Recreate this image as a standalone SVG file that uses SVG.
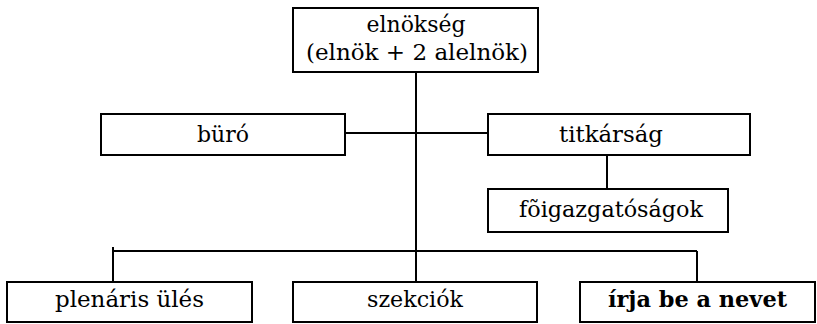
<svg xmlns="http://www.w3.org/2000/svg" width="817" height="324" viewBox="0 0 817 324">
<style>
.box{fill:#fff;stroke:#000;stroke-width:2}
.ln{stroke:#000;stroke-width:2;fill:none}
text{font-family:"DejaVu Serif","Liberation Serif",serif;font-size:22.5px;fill:#000;text-anchor:middle}
.b{font-weight:bold}
</style>
<rect width="817" height="324" fill="#fff"/>
<g id="connectors">
<line class="ln" x1="416" y1="72" x2="416" y2="282"/>
<line class="ln" x1="345" y1="133" x2="488" y2="133"/>
<line class="ln" x1="607" y1="155" x2="607" y2="189"/>
<line class="ln" x1="113" y1="251" x2="697" y2="251"/>
<line class="ln" x1="113" y1="247" x2="113" y2="282"/>
<line class="ln" x1="697" y1="251" x2="697" y2="282"/>
</g>
<g id="elnokseg">
<rect class="box" x="293" y="8" width="245" height="64"/>
<text x="416" y="32" textLength="99" lengthAdjust="spacingAndGlyphs">elnökség</text>
<text x="417" y="60" textLength="222" lengthAdjust="spacingAndGlyphs">(elnök + 2 alelnök)</text>
</g>
<g id="buro">
<rect class="box" x="101" y="114" width="244" height="41"/>
<text x="223" y="142" textLength="52" lengthAdjust="spacingAndGlyphs">büró</text>
</g>
<g id="titkarsag">
<rect class="box" x="488" y="114" width="262" height="41"/>
<text x="611" y="142" textLength="104" lengthAdjust="spacingAndGlyphs">titkárság</text>
</g>
<g id="foigazgatosagok">
<rect class="box" x="488" y="189" width="240" height="43"/>
<text x="611" y="217" textLength="184" lengthAdjust="spacingAndGlyphs">fõigazgatóságok</text>
</g>
<g id="plenaris">
<rect class="box" x="7" y="282" width="245" height="40"/>
<text x="129.5" y="307" textLength="149" lengthAdjust="spacingAndGlyphs">plenáris ülés</text>
</g>
<g id="szekciok">
<rect class="box" x="293" y="282" width="244" height="40"/>
<text x="415" y="307" textLength="96" lengthAdjust="spacingAndGlyphs">szekciók</text>
</g>
<g id="irja">
<rect class="box" x="580" y="282" width="235" height="40"/>
<text class="b" x="697.5" y="307" textLength="179" lengthAdjust="spacingAndGlyphs">írja be a nevet</text>
</g>
</svg>
